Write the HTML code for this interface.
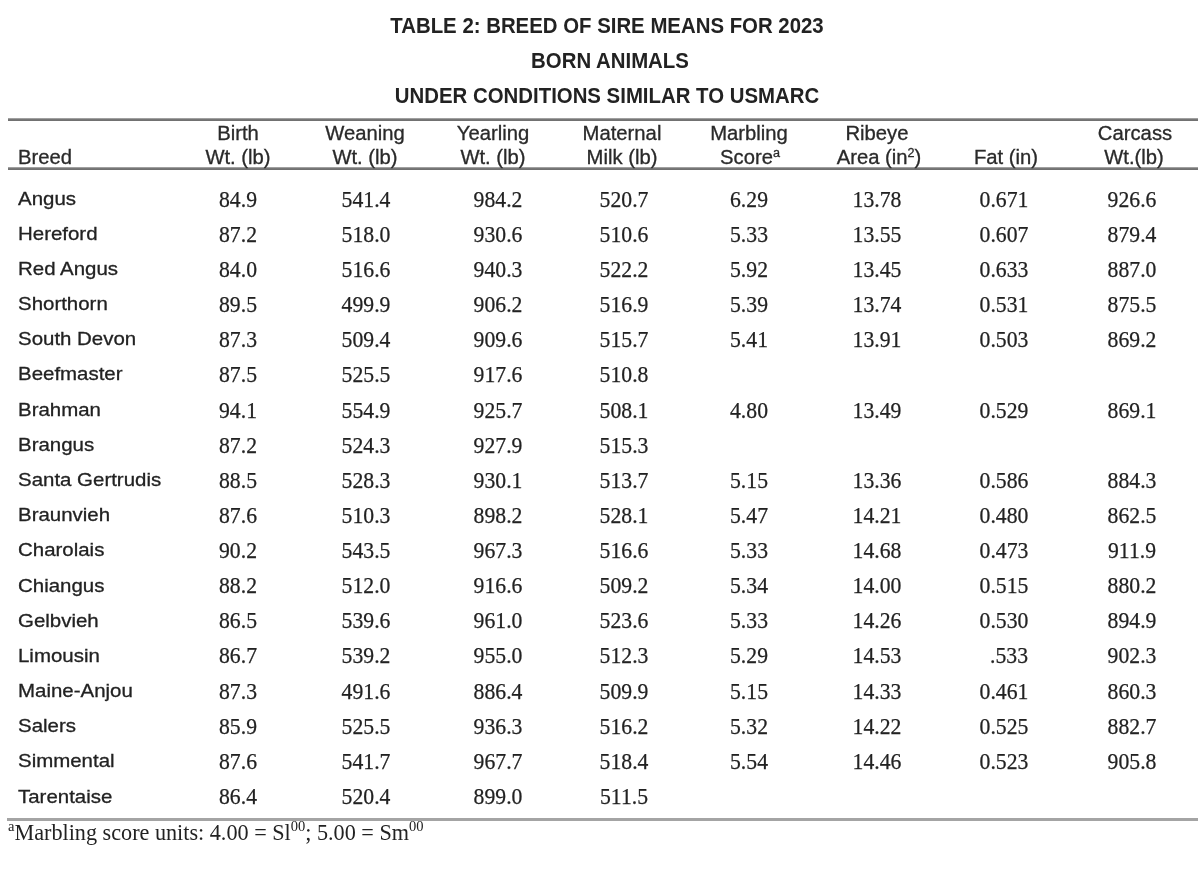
<!DOCTYPE html>
<html><head><meta charset="utf-8"><title>Table 2</title>
<style>
html,body{margin:0;padding:0;background:#fff;}
body{width:1200px;height:870px;position:relative;overflow:hidden;font-family:"Liberation Sans",Arial,sans-serif;color:#222;}
.t{position:absolute;left:6.7px;width:1200px;text-align:center;font-weight:bold;font-size:21.2px;line-height:20px;color:#222;white-space:nowrap;transform:scaleX(0.962);}
.r{position:absolute;left:8px;width:1190px;height:2px;background:#777;}
.h{position:absolute;width:160px;text-align:center;font-size:19.3px;line-height:23px;color:#2a2a2a;white-space:nowrap;transform:scaleX(1.05);-webkit-text-stroke:0.3px #2a2a2a;}
.h sup{font-size:12px;line-height:0;vertical-align:7px;}
.b{position:absolute;left:17.6px;font-size:19px;line-height:24px;color:#222;white-space:nowrap;transform:scaleX(1.076);transform-origin:0 50%;-webkit-text-stroke:0.3px #222;}
.n{position:absolute;width:160px;text-align:center;font-family:"Liberation Serif","Times New Roman",serif;font-size:22.7px;line-height:24px;color:#222;white-space:nowrap;transform:scaleX(0.956);-webkit-text-stroke:0.25px #222;}
.f{position:absolute;left:8px;top:820px;font-family:"Liberation Serif","Times New Roman",serif;font-size:22.2px;line-height:26px;color:#222;white-space:nowrap;}
.f sup{font-size:14.5px;line-height:0;vertical-align:9px;}
</style></head><body>
<div class="t" style="top:15.65px">TABLE 2: BREED OF SIRE MEANS FOR 2023</div>
<div class="t" style="top:51.45px;left:9.7px">BORN ANIMALS</div>
<div class="t" style="top:86.45px">UNDER CONDITIONS SIMILAR TO USMARC</div>
<div class="r" style="top:118px;height:3px;background:linear-gradient(#c4c4c4 0,#7a7a7a 34%,#6e6e6e 100%)"></div>
<div class="r" style="top:167px;height:3px;background:linear-gradient(#c4c4c4 0,#7a7a7a 34%,#6e6e6e 100%)"></div>
<div class="r" style="top:818px;left:7px;width:1191px;height:3px;background:#a4a4a4"></div>
<div class="h" style="left:17.6px;top:146px;width:auto;text-align:left;transform-origin:0 50%">Breed</div>

<div class="h" style="left:157.8px;top:122px">Birth</div>
<div class="h" style="left:158.3px;top:146px">Wt. (lb)</div>
<div class="h" style="left:285.2px;top:122px">Weaning</div>
<div class="h" style="left:285.2px;top:146px">Wt. (lb)</div>
<div class="h" style="left:413.0px;top:122px">Yearling</div>
<div class="h" style="left:413.0px;top:146px">Wt. (lb)</div>
<div class="h" style="left:542.0px;top:122px">Maternal</div>
<div class="h" style="left:542.0px;top:146px">Milk (lb)</div>
<div class="h" style="left:669.3px;top:122px">Marbling</div>
<div class="h" style="left:669.8px;top:146px">Score<sup>a</sup></div>
<div class="h" style="left:797.3px;top:122px">Ribeye</div>
<div class="h" style="left:798.5px;top:146px">Area (in<sup>2</sup>)</div>
<div class="h" style="left:925.6px;top:146px">Fat (in)</div>
<div class="h" style="left:1055.0px;top:122px">Carcass</div>
<div class="h" style="left:1053.7px;top:146px">Wt.(lb)</div>
<div class="b" style="top:186.58px">Angus</div>
<div class="n" style="left:158.4px;top:187.66px">84.9</div>
<div class="n" style="left:286.2px;top:187.66px">541.4</div>
<div class="n" style="left:418.2px;top:187.66px">984.2</div>
<div class="n" style="left:544.0px;top:187.66px">520.7</div>
<div class="n" style="left:668.6px;top:187.66px">6.29</div>
<div class="n" style="left:797.2px;top:187.66px">13.78</div>
<div class="n" style="left:923.6px;top:187.66px">0.671</div>
<div class="n" style="left:1052.3px;top:187.66px">926.6</div>
<div class="b" style="top:221.76px">Hereford</div>
<div class="n" style="left:158.4px;top:222.80px">87.2</div>
<div class="n" style="left:286.2px;top:222.80px">518.0</div>
<div class="n" style="left:418.2px;top:222.80px">930.6</div>
<div class="n" style="left:544.0px;top:222.80px">510.6</div>
<div class="n" style="left:668.6px;top:222.80px">5.33</div>
<div class="n" style="left:797.2px;top:222.80px">13.55</div>
<div class="n" style="left:923.6px;top:222.80px">0.607</div>
<div class="n" style="left:1052.3px;top:222.80px">879.4</div>
<div class="b" style="top:256.94px">Red Angus</div>
<div class="n" style="left:158.4px;top:257.94px">84.0</div>
<div class="n" style="left:286.2px;top:257.94px">516.6</div>
<div class="n" style="left:418.2px;top:257.94px">940.3</div>
<div class="n" style="left:544.0px;top:257.94px">522.2</div>
<div class="n" style="left:668.6px;top:257.94px">5.92</div>
<div class="n" style="left:797.2px;top:257.94px">13.45</div>
<div class="n" style="left:923.6px;top:257.94px">0.633</div>
<div class="n" style="left:1052.3px;top:257.94px">887.0</div>
<div class="b" style="top:292.12px">Shorthorn</div>
<div class="n" style="left:158.4px;top:293.08px">89.5</div>
<div class="n" style="left:286.2px;top:293.08px">499.9</div>
<div class="n" style="left:418.2px;top:293.08px">906.2</div>
<div class="n" style="left:544.0px;top:293.08px">516.9</div>
<div class="n" style="left:668.6px;top:293.08px">5.39</div>
<div class="n" style="left:797.2px;top:293.08px">13.74</div>
<div class="n" style="left:923.6px;top:293.08px">0.531</div>
<div class="n" style="left:1052.3px;top:293.08px">875.5</div>
<div class="b" style="top:327.30px">South Devon</div>
<div class="n" style="left:158.4px;top:328.22px">87.3</div>
<div class="n" style="left:286.2px;top:328.22px">509.4</div>
<div class="n" style="left:418.2px;top:328.22px">909.6</div>
<div class="n" style="left:544.0px;top:328.22px">515.7</div>
<div class="n" style="left:668.6px;top:328.22px">5.41</div>
<div class="n" style="left:797.2px;top:328.22px">13.91</div>
<div class="n" style="left:923.6px;top:328.22px">0.503</div>
<div class="n" style="left:1052.3px;top:328.22px">869.2</div>
<div class="b" style="top:362.48px">Beefmaster</div>
<div class="n" style="left:158.4px;top:363.36px">87.5</div>
<div class="n" style="left:286.2px;top:363.36px">525.5</div>
<div class="n" style="left:418.2px;top:363.36px">917.6</div>
<div class="n" style="left:544.0px;top:363.36px">510.8</div>
<div class="b" style="top:397.66px">Brahman</div>
<div class="n" style="left:158.4px;top:398.50px">94.1</div>
<div class="n" style="left:286.2px;top:398.50px">554.9</div>
<div class="n" style="left:418.2px;top:398.50px">925.7</div>
<div class="n" style="left:544.0px;top:398.50px">508.1</div>
<div class="n" style="left:668.6px;top:398.50px">4.80</div>
<div class="n" style="left:797.2px;top:398.50px">13.49</div>
<div class="n" style="left:923.6px;top:398.50px">0.529</div>
<div class="n" style="left:1052.3px;top:398.50px">869.1</div>
<div class="b" style="top:432.84px">Brangus</div>
<div class="n" style="left:158.4px;top:433.64px">87.2</div>
<div class="n" style="left:286.2px;top:433.64px">524.3</div>
<div class="n" style="left:418.2px;top:433.64px">927.9</div>
<div class="n" style="left:544.0px;top:433.64px">515.3</div>
<div class="b" style="top:468.02px">Santa Gertrudis</div>
<div class="n" style="left:158.4px;top:468.78px">88.5</div>
<div class="n" style="left:286.2px;top:468.78px">528.3</div>
<div class="n" style="left:418.2px;top:468.78px">930.1</div>
<div class="n" style="left:544.0px;top:468.78px">513.7</div>
<div class="n" style="left:668.6px;top:468.78px">5.15</div>
<div class="n" style="left:797.2px;top:468.78px">13.36</div>
<div class="n" style="left:923.6px;top:468.78px">0.586</div>
<div class="n" style="left:1052.3px;top:468.78px">884.3</div>
<div class="b" style="top:503.20px">Braunvieh</div>
<div class="n" style="left:158.4px;top:503.92px">87.6</div>
<div class="n" style="left:286.2px;top:503.92px">510.3</div>
<div class="n" style="left:418.2px;top:503.92px">898.2</div>
<div class="n" style="left:544.0px;top:503.92px">528.1</div>
<div class="n" style="left:668.6px;top:503.92px">5.47</div>
<div class="n" style="left:797.2px;top:503.92px">14.21</div>
<div class="n" style="left:923.6px;top:503.92px">0.480</div>
<div class="n" style="left:1052.3px;top:503.92px">862.5</div>
<div class="b" style="top:538.38px">Charolais</div>
<div class="n" style="left:158.4px;top:539.06px">90.2</div>
<div class="n" style="left:286.2px;top:539.06px">543.5</div>
<div class="n" style="left:418.2px;top:539.06px">967.3</div>
<div class="n" style="left:544.0px;top:539.06px">516.6</div>
<div class="n" style="left:668.6px;top:539.06px">5.33</div>
<div class="n" style="left:797.2px;top:539.06px">14.68</div>
<div class="n" style="left:923.6px;top:539.06px">0.473</div>
<div class="n" style="left:1052.3px;top:539.06px">911.9</div>
<div class="b" style="top:573.56px">Chiangus</div>
<div class="n" style="left:158.4px;top:574.20px">88.2</div>
<div class="n" style="left:286.2px;top:574.20px">512.0</div>
<div class="n" style="left:418.2px;top:574.20px">916.6</div>
<div class="n" style="left:544.0px;top:574.20px">509.2</div>
<div class="n" style="left:668.6px;top:574.20px">5.34</div>
<div class="n" style="left:797.2px;top:574.20px">14.00</div>
<div class="n" style="left:923.6px;top:574.20px">0.515</div>
<div class="n" style="left:1052.3px;top:574.20px">880.2</div>
<div class="b" style="top:608.74px">Gelbvieh</div>
<div class="n" style="left:158.4px;top:609.34px">86.5</div>
<div class="n" style="left:286.2px;top:609.34px">539.6</div>
<div class="n" style="left:418.2px;top:609.34px">961.0</div>
<div class="n" style="left:544.0px;top:609.34px">523.6</div>
<div class="n" style="left:668.6px;top:609.34px">5.33</div>
<div class="n" style="left:797.2px;top:609.34px">14.26</div>
<div class="n" style="left:923.6px;top:609.34px">0.530</div>
<div class="n" style="left:1052.3px;top:609.34px">894.9</div>
<div class="b" style="top:643.92px">Limousin</div>
<div class="n" style="left:158.4px;top:644.48px">86.7</div>
<div class="n" style="left:286.2px;top:644.48px">539.2</div>
<div class="n" style="left:418.2px;top:644.48px">955.0</div>
<div class="n" style="left:544.0px;top:644.48px">512.3</div>
<div class="n" style="left:668.6px;top:644.48px">5.29</div>
<div class="n" style="left:797.2px;top:644.48px">14.53</div>
<div class="n" style="left:929.0px;top:644.48px">.533</div>
<div class="n" style="left:1052.3px;top:644.48px">902.3</div>
<div class="b" style="top:679.10px">Maine-Anjou</div>
<div class="n" style="left:158.4px;top:679.62px">87.3</div>
<div class="n" style="left:286.2px;top:679.62px">491.6</div>
<div class="n" style="left:418.2px;top:679.62px">886.4</div>
<div class="n" style="left:544.0px;top:679.62px">509.9</div>
<div class="n" style="left:668.6px;top:679.62px">5.15</div>
<div class="n" style="left:797.2px;top:679.62px">14.33</div>
<div class="n" style="left:923.6px;top:679.62px">0.461</div>
<div class="n" style="left:1052.3px;top:679.62px">860.3</div>
<div class="b" style="top:714.28px">Salers</div>
<div class="n" style="left:158.4px;top:714.76px">85.9</div>
<div class="n" style="left:286.2px;top:714.76px">525.5</div>
<div class="n" style="left:418.2px;top:714.76px">936.3</div>
<div class="n" style="left:544.0px;top:714.76px">516.2</div>
<div class="n" style="left:668.6px;top:714.76px">5.32</div>
<div class="n" style="left:797.2px;top:714.76px">14.22</div>
<div class="n" style="left:923.6px;top:714.76px">0.525</div>
<div class="n" style="left:1052.3px;top:714.76px">882.7</div>
<div class="b" style="top:749.46px">Simmental</div>
<div class="n" style="left:158.4px;top:749.90px">87.6</div>
<div class="n" style="left:286.2px;top:749.90px">541.7</div>
<div class="n" style="left:418.2px;top:749.90px">967.7</div>
<div class="n" style="left:544.0px;top:749.90px">518.4</div>
<div class="n" style="left:668.6px;top:749.90px">5.54</div>
<div class="n" style="left:797.2px;top:749.90px">14.46</div>
<div class="n" style="left:923.6px;top:749.90px">0.523</div>
<div class="n" style="left:1052.3px;top:749.90px">905.8</div>
<div class="b" style="top:784.64px">Tarentaise</div>
<div class="n" style="left:158.4px;top:785.04px">86.4</div>
<div class="n" style="left:286.2px;top:785.04px">520.4</div>
<div class="n" style="left:418.2px;top:785.04px">899.0</div>
<div class="n" style="left:544.0px;top:785.04px">511.5</div>
<div class="f"><sup>a</sup>Marbling score units: 4.00 = Sl<sup>00</sup>; 5.00 = Sm<sup>00</sup></div>
</body></html>
